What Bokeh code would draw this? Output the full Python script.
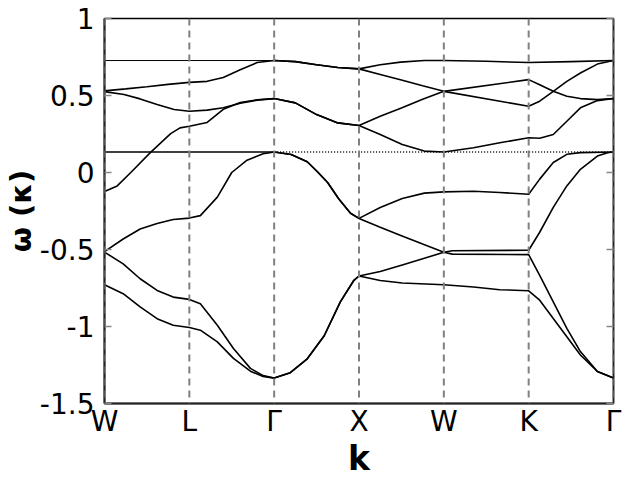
from bokeh.plotting import figure
from bokeh.models import Range1d, FixedTicker, Span, LinearAxis
from bokeh.embed import file_html
from bokeh.resources import INLINE

# high-symmetry path
k_ticks = [0, 1, 2, 3, 4, 5, 6]
k_labels = ["W", "L", "Γ", "X", "W", "K", "Γ"]
y_ticks = [1, 0.5, 0, -0.5, -1, -1.5]
y_tick_labels = ["1", "0.5", "0", "-0.5", "-1", "-1.5"]
x_title = "k"
y_title = "ω (κ)"

# reference (dotted) level
ref_k = [2, 6]
ref_w = [0.133, 0.133]

# bands (k position along path, omega)
band1_k = [0, 1, 2, 2.25, 2.5, 2.75, 3, 3.25, 3.49, 3.77, 4, 4.5, 5, 5.5, 6]
band1_w = [0.727, 0.727, 0.727, 0.72, 0.70, 0.682, 0.673, 0.70, 0.717, 0.727, 0.727, 0.722, 0.714, 0.72, 0.727]

band2_k = [0, 0.25, 0.5, 0.75, 1, 1.21, 1.4, 1.6, 1.8, 2, 2.25, 2.5, 2.75, 3, 3.25, 3.5, 3.75, 4, 5, 5.13, 5.29, 5.45, 5.61, 5.81, 6]
band2_w = [0.53, 0.543, 0.557, 0.572, 0.585, 0.592, 0.617, 0.667, 0.714, 0.727, 0.72, 0.70, 0.682, 0.673, 0.637, 0.60, 0.563, 0.527, 0.603, 0.570, 0.527, 0.495, 0.48, 0.473, 0.48]

band3_k = [0, 0.23, 0.42, 0.62, 0.82, 1, 1.21, 1.4, 1.6, 1.8, 2, 2.25, 2.5, 2.75, 3, 3.25, 3.5, 3.75, 4, 5, 5.13, 5.29, 5.45, 5.61, 5.81, 6]
band3_w = [0.525, 0.506, 0.478, 0.441, 0.409, 0.398, 0.405, 0.42, 0.45, 0.47, 0.48, 0.452, 0.376, 0.322, 0.305, 0.365, 0.419, 0.475, 0.527, 0.43, 0.463, 0.527, 0.592, 0.646, 0.704, 0.727]

band4_k = [0, 0.15, 0.31, 0.54, 0.78, 0.89, 1, 1.21, 1.4, 1.6, 1.8, 2, 2.25, 2.5, 2.75, 3, 3.25, 3.51, 3.77, 4, 4.35, 4.66, 5, 5.13, 5.29, 5.45, 5.61, 5.81, 6]
band4_w = [-0.123, -0.087, 0.0, 0.129, 0.252, 0.29, 0.30, 0.325, 0.41, 0.455, 0.472, 0.48, 0.452, 0.376, 0.322, 0.305, 0.247, 0.182, 0.139, 0.133, 0.161, 0.193, 0.226, 0.222, 0.247, 0.333, 0.42, 0.467, 0.48]

band5_k = [0, 1, 2, 2.2, 2.39, 2.51, 2.63, 2.76, 2.9, 3, 3.25, 3.51, 3.77, 4, 4.35, 4.66, 5, 5.13, 5.29, 5.45, 5.61, 6]
band5_w = [0.133, 0.133, 0.133, 0.117, 0.07, 0.005, -0.065, -0.17, -0.265, -0.298, -0.227, -0.169, -0.134, -0.126, -0.122, -0.13, -0.141, -0.043, 0.065, 0.118, 0.129, 0.133]

band6_k = [0, 0.22, 0.42, 0.62, 0.81, 1, 1.13, 1.33, 1.5, 1.68, 1.87, 2, 2.2, 2.39, 2.51, 2.63, 2.76, 2.9, 3, 3.25, 3.5, 3.75, 4, 4.1, 5, 5.13, 5.29, 5.45, 5.61, 5.81, 5.93, 6]
band6_w = [-0.514, -0.432, -0.367, -0.331, -0.305, -0.296, -0.28, -0.16, 0.0, 0.08, 0.122, 0.133, 0.117, 0.07, 0.005, -0.065, -0.17, -0.265, -0.298, -0.355, -0.41, -0.465, -0.518, -0.508, -0.505, -0.388, -0.226, -0.087, 0.021, 0.107, 0.128, 0.133]

band7_k = [0, 0.22, 0.42, 0.62, 0.81, 1, 1.13, 1.33, 1.52, 1.72, 1.87, 2, 2.19, 2.39, 2.59, 2.78, 2.94, 3, 3.25, 3.51, 3.77, 4, 4.1, 5, 5.13, 5.29, 5.45, 5.61, 5.81, 6]
band7_w = [-0.517, -0.593, -0.69, -0.766, -0.809, -0.824, -0.852, -0.992, -1.143, -1.272, -1.319, -1.335, -1.30, -1.21, -1.06, -0.84, -0.70, -0.672, -0.643, -0.60, -0.557, -0.518, -0.53, -0.533, -0.668, -0.84, -1.012, -1.163, -1.292, -1.335]

band8_k = [0, 0.22, 0.42, 0.62, 0.81, 1, 1.13, 1.33, 1.52, 1.72, 1.87, 2, 2.19, 2.39, 2.59, 2.78, 2.94, 3, 3.25, 3.51, 4, 4.35, 4.66, 5, 5.13, 5.29, 5.45, 5.61, 5.81, 6]
band8_w = [-0.729, -0.787, -0.873, -0.949, -0.992, -1.007, -1.024, -1.10, -1.207, -1.29, -1.325, -1.335, -1.30, -1.21, -1.06, -0.84, -0.70, -0.672, -0.701, -0.718, -0.729, -0.744, -0.761, -0.768, -0.829, -0.948, -1.066, -1.185, -1.292, -1.335]

bands = [(band1_k, band1_w), (band2_k, band2_w), (band3_k, band3_w), (band4_k, band4_w),
         (band5_k, band5_w), (band6_k, band6_w), (band7_k, band7_w), (band8_k, band8_w)]

FONT = "DejaVu Sans"

p = figure(width=640, height=480,
           x_range=Range1d(k_ticks[0], k_ticks[-1]),
           y_range=Range1d(y_ticks[-1], y_ticks[0]),
           output_backend="svg", toolbar_location=None,
           min_border_left=104, min_border_right=27,
           min_border_top=18, min_border_bottom=76)

p.xgrid.visible = False
p.ygrid.visible = False
p.outline_line_color = "black"
p.outline_line_width = 1.5
p.background_fill_color = "white"
p.border_fill_color = "white"

# dashed vertical lines at high-symmetry points
for kk in k_ticks:
    p.add_layout(Span(location=kk, dimension="height", line_color="#808080",
                      line_dash="7 5", line_width=2))

# reference dotted level
p.line(ref_k, ref_w, line_color="black", line_width=1.5, line_dash="1 2")

# bands
for i, (kk, ww) in enumerate(bands):
    if i == 0:
        p.line(kk[:3], ww[:3], line_color="black", line_width=1.0)
        p.line(kk[2:], ww[2:], line_color="black", line_width=1.6)
    else:
        p.line(kk, ww, line_color="black", line_width=1.6)

# x axis
xa = p.xaxis[0]
xa.ticker = FixedTicker(ticks=k_ticks)
xa.major_label_overrides = {k: lab for k, lab in zip(k_ticks, k_labels)}
xa.major_tick_line_color = None
xa.minor_tick_line_color = None
xa.axis_line_color = "#222222"
xa.axis_line_width = 2
xa.major_label_text_font = FONT
xa.major_label_text_font_size = "28px"
xa.major_label_text_color = "black"
xa.major_label_standoff = -5
xa.axis_label = x_title
xa.axis_label_text_font = FONT
xa.axis_label_text_font_style = "bold"
xa.axis_label_text_font_size = "33px"
xa.axis_label_text_color = "black"
xa.axis_label_standoff = -2

# y axis
ya = p.yaxis[0]
ya.ticker = FixedTicker(ticks=y_ticks)
ya.major_label_overrides = {t: lab for t, lab in zip(y_ticks, y_tick_labels)}
ya.major_tick_in = 7
ya.major_tick_out = 0
ya.major_tick_line_color = "#888888"
ya.major_tick_line_width = 1.5
ya.minor_tick_line_color = None
ya.axis_line_color = "#222222"
ya.axis_line_width = 2
ya.major_label_text_font = FONT
ya.major_label_text_font_size = "28px"
ya.major_label_text_color = "black"
ya.major_label_standoff = 10
ya.axis_label = y_title
ya.axis_label_text_font = FONT
ya.axis_label_text_font_style = "bold"
ya.axis_label_text_font_size = "29px"
ya.axis_label_text_color = "black"
ya.axis_label_standoff = -1

# right axis: inward ticks only
ra = LinearAxis(ticker=FixedTicker(ticks=y_ticks))
ra.major_label_overrides = {t: " " for t in y_ticks}
ra.major_tick_in = 7
ra.major_tick_out = 0
ra.major_tick_line_color = "#888888"
ra.major_tick_line_width = 1.5
ra.minor_tick_line_color = None
ra.axis_line_color = "#222222"
ra.axis_line_width = 1.5
ra.major_label_text_font_size = "8px"
ra.major_label_standoff = 0
p.add_layout(ra, "right")

open("out.html", "w").write(file_html(p, INLINE))
